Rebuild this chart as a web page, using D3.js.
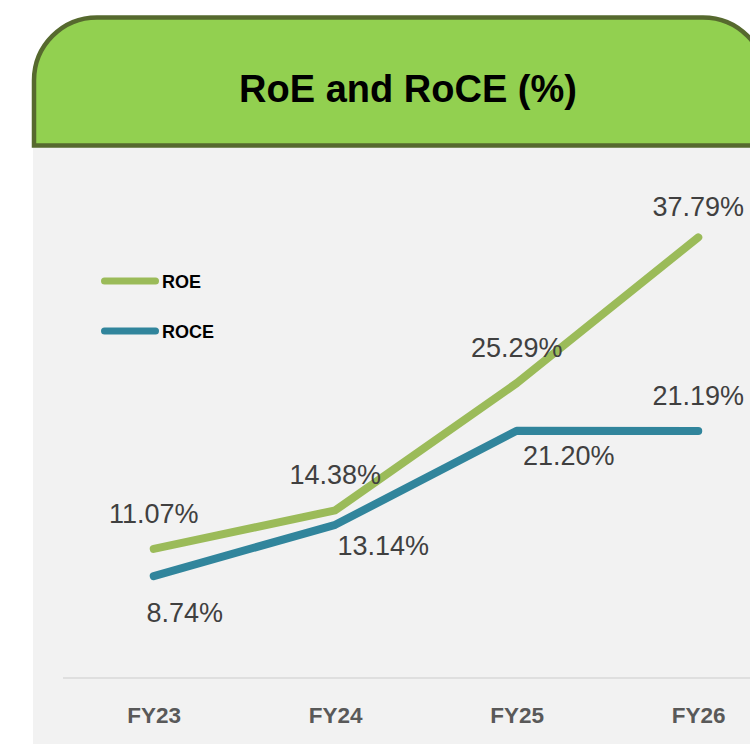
<!DOCTYPE html>
<html>
<head>
<meta charset="utf-8">
<script src="https://cdn.jsdelivr.net/npm/d3@7"></script>
<style>
  html, body { margin: 0; padding: 0; background: #ffffff; }
  svg { display: block; }
</style>
</head>
<body>
<script>
// ---- Data ----
const categories = ["FY23", "FY24", "FY25", "FY26"];
const roeValues  = [11.07, 14.38, 25.29, 37.79];
const roceValues = [8.74, 13.14, 21.20, 21.19];
const seriesNames = ["ROE", "ROCE"];
const chartTitle = "RoE and RoCE (%)";

// ---- Layout (label nudges, px: [dx, dy of baseline]) ----
const roeLabelOffsets  = [[0, -26], [0, -26], [0, -26], [0, -21]];
const roceLabelOffsets = [[31, 46], [48, 30], [52, 34], [0, -26]];

const W = 750, H = 744;
const colors = { ROE: "#9BBB59", ROCE: "#31859C" };

const svg = d3.select("body").append("svg")
  .attr("width", W).attr("height", H);

// Gray panel
svg.append("rect")
  .attr("x", 33).attr("y", 146).attr("width", W - 33).attr("height", H - 146)
  .attr("fill", "#F2F2F2");

// Header with rounded top corners
const hx0 = 34, hx1 = 766, hy0 = 17.5, hy1 = 145.5, r = 63;
const hp = d3.path();
hp.moveTo(hx0, hy1);
hp.lineTo(hx0, hy0 + r);
hp.arcTo(hx0, hy0, hx0 + r, hy0, r);
hp.lineTo(hx1 - r, hy0);
hp.arcTo(hx1, hy0, hx1, hy0 + r, r);
hp.lineTo(hx1, hy1);
hp.closePath();
svg.append("path")
  .attr("d", hp.toString())
  .attr("fill", "#92D050")
  .attr("stroke", "#56692E")
  .attr("stroke-width", 4.5);

svg.append("text")
  .attr("x", 408).attr("y", 102)
  .attr("text-anchor", "middle")
  .attr("font-family", "Liberation Sans, Arial, sans-serif")
  .attr("font-weight", "bold")
  .attr("font-size", 38)
  .attr("fill", "#000")
  .text(chartTitle);

// Scales
const x = d3.scalePoint().domain(categories).range([63, 789]).padding(0.5);
const y = d3.scaleLinear().domain([0, 40]).range([678, 211.6]);

// Axis line & labels
const xAxis = d3.axisBottom(x).tickSize(0).tickPadding(0);
const gx = svg.append("g").attr("transform", `translate(0,${y(0)})`).call(xAxis);
gx.select(".domain").attr("stroke", "#D9D9D9").attr("stroke-width", 1.5)
  .attr("d", `M63,0H${W}`);
gx.selectAll(".tick text")
  .attr("y", 45).attr("dy", 0)
  .attr("font-family", "Liberation Sans, Arial, sans-serif")
  .attr("font-weight", "bold")
  .attr("font-size", 22.5)
  .attr("fill", "#595959");

// Lines
const line = d3.line().x((d, i) => x(categories[i])).y(d => y(d));
const series = [
  { name: "ROE", values: roeValues, offsets: roeLabelOffsets },
  { name: "ROCE", values: roceValues, offsets: roceLabelOffsets }
];
// draw ROCE first so ROE sits on top
[series[1], series[0]].forEach(s => {
  svg.append("path")
    .datum(s.values)
    .attr("d", line)
    .attr("fill", "none")
    .attr("stroke", colors[s.name])
    .attr("stroke-width", 8)
    .attr("stroke-linecap", "round")
    .attr("stroke-linejoin", "round");
});

// Data labels
series.forEach(s => {
  svg.append("g").selectAll("text")
    .data(s.values)
    .join("text")
    .attr("x", (d, i) => x(categories[i]) + s.offsets[i][0])
    .attr("y", (d, i) => y(d) + s.offsets[i][1])
    .attr("text-anchor", "middle")
    .attr("font-family", "Liberation Sans, Arial, sans-serif")
    .attr("font-size", 27)
    .attr("fill", "#404040")
    .text(d => d.toFixed(2) + "%");
});

// Legend
const legend = svg.append("g");
seriesNames.forEach((name, i) => {
  const ly = 281 + i * 50;
  legend.append("line")
    .attr("x1", 104.5).attr("x2", 155.5)
    .attr("y1", ly).attr("y2", ly)
    .attr("stroke", colors[name])
    .attr("stroke-width", 7)
    .attr("stroke-linecap", "round");
  legend.append("text")
    .attr("x", 162).attr("y", ly + 7.3)
    .attr("font-family", "Liberation Sans, Arial, sans-serif")
    .attr("font-weight", "bold")
    .attr("font-size", 18)
    .attr("fill", "#000")
    .text(name);
});
</script>
</body>
</html>
